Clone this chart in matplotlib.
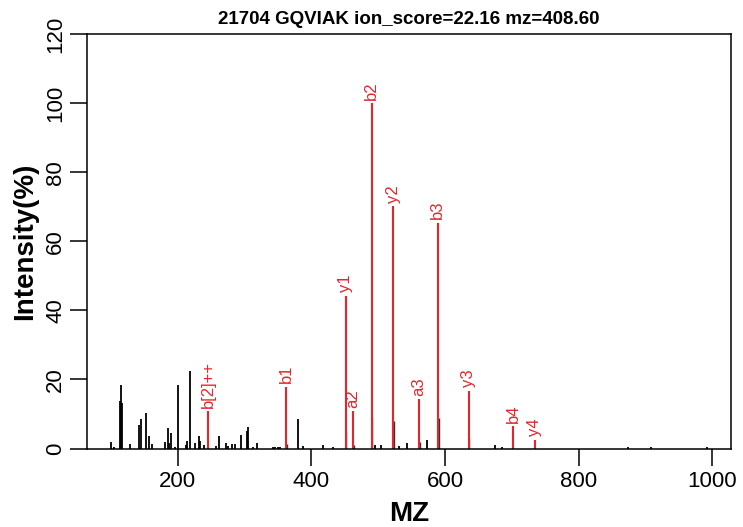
import matplotlib
matplotlib.use('Agg')
import matplotlib.pyplot as plt

plt.rcParams['font.family'] = ['Liberation Sans', 'DejaVu Sans']

# picos sin asignar (m/z, intensidad %)
mz_otros = [100.3, 105.0, 113.2, 115.2, 116.7, 128.7, 142.6, 144.7, 152.2, 156.6,
            161.6, 180.6, 185.1, 187.0, 190.0, 196.5, 200.5, 212.5, 214.5, 218.5,
            226.0, 231.5, 233.4, 239.4, 257.4, 261.9, 272.3, 275.3, 281.3, 286.3,
            295.3, 303.3, 304.5, 312.3, 318.3, 342.0, 346.0, 350.0, 353.0, 379.6,
            388.0, 417.0, 433.0, 495.0, 503.8, 531.7, 543.6, 572.6, 674.9, 685.0,
            874.4, 907.9, 991.7]
int_otros = [1.9, 0.3, 13.7, 18.5, 13.3, 1.4, 6.8, 8.5, 10.2, 3.6,
             1.4, 2.0, 5.8, 1.6, 4.4, 0.4, 18.4, 1.0, 2.2, 22.4,
             1.7, 3.6, 2.2, 1.0, 0.6, 3.6, 1.7, 0.8, 1.2, 1.2,
             3.9, 5.2, 6.2, 0.4, 1.5, 0.5, 0.4, 0.5, 0.4, 8.6,
             0.6, 1.0, 0.5, 1.0, 1.0, 0.6, 1.5, 2.5, 1.0, 0.5,
             0.3, 0.3, 0.3]

# isotopos de los iones asignados
mz_iso = [363.2, 452.3, 463.3, 491.3, 523.4, 562.4, 590.4, 636.4]
int_iso = [1.3, 4.9, 1.0, 9.2, 8.0, 2.0, 8.8, 2.9]

# iones asignados
mz_ion = [245.65, 362.23, 451.32, 462.29, 490.29, 522.36, 561.36, 589.36,
          635.44, 702.44, 734.51]
int_ion = [10.8, 17.9, 44.2, 10.8, 100.0, 70.2, 14.2, 65.4, 16.7, 6.5, 2.5]
etiquetas = ['b[2]++', 'b1', 'y1', 'a2', 'b2', 'y2', 'a3', 'b3', 'y3', 'b4', 'y4']

rojo = '#E3262C'

fig = plt.figure(figsize=(7.43, 5.27), dpi=100)
ax = fig.add_axes([87 / 743, (527 - 448.5) / 527, (731 - 87) / 743, (448.5 - 34) / 527])

ax.vlines(mz_otros, 0, int_otros, color='black', lw=1.3)
ax.vlines(mz_iso, 0, int_iso, color='#333333', lw=1.0)
ax.vlines(mz_ion, 0, int_ion, color=rojo, lw=1.5)

for x, y, t in zip(mz_ion, int_ion, etiquetas):
    ax.annotate(t, (x, y), xytext=(0, 2.5), textcoords='offset points',
                rotation=90, ha='center', va='bottom', color=rojo, fontsize=12)

ax.set_xlim(64.3, 1028)
ax.set_ylim(0, 120)
ax.set_xticks([200, 400, 600, 800, 1000])
ax.set_yticks([0, 20, 40, 60, 80, 100, 120])

for s in ax.spines.values():
    s.set_linewidth(1.1)
ax.tick_params(direction='out', length=12, width=1.1, labelsize=16)
ax.tick_params(axis='x', pad=4)
ax.tick_params(axis='y', pad=3, labelrotation=90)
for lbl in ax.get_yticklabels():
    lbl.set_va('center')

ax.set_xlabel('MZ', fontsize=20, fontweight='bold', labelpad=7)
ax.set_ylabel('Intensity(%)', fontsize=20, fontweight='bold', labelpad=5)
ax.set_title('21704 GQVIAK ion_score=22.16 mz=408.60', fontsize=13.5,
             fontweight='bold', pad=7)

fig.savefig('out.png', dpi=100)
